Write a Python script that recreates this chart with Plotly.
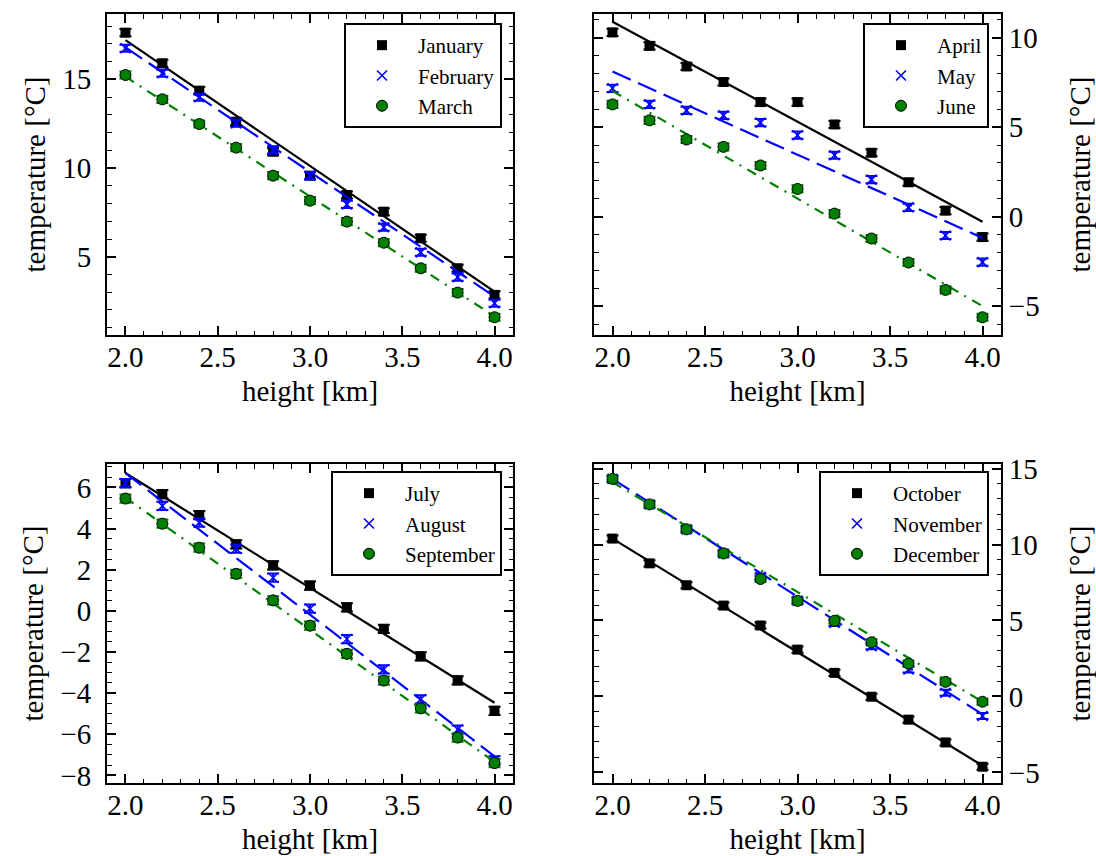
import plotly.graph_objects as go

# ---------------- data ----------------
heights = [2.0, 2.2, 2.4, 2.6, 2.8, 3.0, 3.2, 3.4, 3.6, 3.8, 4.0]
fit_x = [2.0, 4.0]
errors = [0.2, 0.2, 0.2, 0.2, 0.2, 0.2, 0.2, 0.2, 0.2, 0.2, 0.2]

january = [17.63, 15.90, 14.36, 12.61, 10.92, 9.57, 8.48, 7.54, 6.04, 4.35, 2.85]
february = [16.75, 15.34, 13.99, 12.52, 11.02, 9.57, 7.95, 6.66, 5.25, 3.85, 2.38]
march = [15.24, 13.87, 12.48, 11.15, 9.57, 8.16, 6.98, 5.79, 4.35, 2.98, 1.59]

april = [10.29, 9.54, 8.39, 7.52, 6.40, 6.40, 5.15, 3.57, 1.92, 0.34, -1.14]
may = [7.17, 6.27, 5.94, 5.66, 5.25, 4.55, 3.43, 2.07, 0.52, -1.05, -2.54]
june = [6.27, 5.38, 4.31, 3.90, 2.86, 1.55, 0.17, -1.22, -2.56, -4.09, -5.62]

july = [6.21, 5.67, 4.65, 3.23, 2.21, 1.23, 0.17, -0.88, -2.21, -3.38, -4.86]
august = [6.21, 5.10, 4.29, 3.02, 1.61, 0.11, -1.37, -2.84, -4.30, -5.77, -7.27]
september = [5.46, 4.24, 3.07, 1.80, 0.51, -0.72, -2.09, -3.39, -4.74, -6.16, -7.40]

october = [10.39, 8.76, 7.32, 5.98, 4.67, 3.08, 1.55, -0.02, -1.53, -3.03, -4.63]
november = [14.32, 12.64, 11.00, 9.41, 7.88, 6.31, 4.83, 3.30, 1.77, 0.24, -1.29]
december = [14.32, 12.64, 11.00, 9.41, 7.73, 6.29, 4.98, 3.56, 2.16, 0.96, -0.35]

# fitted lines (value at 2.0 km and 4.0 km)
jan_fit = [17.21, 3.03]
feb_fit = [16.80, 2.75]
mar_fit = [15.15, 1.64]
apr_fit = [10.89, -0.28]
may_fit = [8.11, -1.19]
jun_fit = [7.02, -5.00]
jul_fit = [6.70, -4.47]
aug_fit = [6.70, -7.07]
sep_fit = [5.51, -7.35]
oct_fit = [10.39, -4.56]
nov_fit = [14.32, -1.18]
dec_fit = [14.10, -0.35]

month_names = ["January", "February", "March", "April", "May", "June",
               "July", "August", "September", "October", "November", "December"]

# ---------------- styling ----------------
FONT = "Liberation Serif, Times New Roman, Times, serif"
BLACK = "#000000"
BLUE = "#0000ff"
GREEN = "#008000"

styles = [
    dict(color=BLACK, symbol="square", size=10, line=dict(width=0), dash="solid"),
    dict(color=BLUE, symbol="x-thin", size=10, line=dict(width=1.6, color=BLUE), dash="20px,8px"),
    dict(color=GREEN, symbol="circle", size=11, line=dict(width=1, color=BLACK), dash="10px,7px,2px,7px"),
]

panels = [
    [(january, jan_fit), (february, feb_fit), (march, mar_fit)],
    [(april, apr_fit), (may, may_fit), (june, jun_fit)],
    [(july, jul_fit), (august, aug_fit), (september, sep_fit)],
    [(october, oct_fit), (november, nov_fit), (december, dec_fit)],
]

fig = go.Figure()

for p, series in enumerate(panels):
    xa = "x" if p == 0 else f"x{p + 1}"
    ya = "y" if p == 0 else f"y{p + 1}"
    lg = "legend" if p == 0 else f"legend{p + 1}"
    for s, (vals, fit) in enumerate(series):
        st = styles[s]
        name = month_names[p * 3 + s]
        fig.add_trace(go.Scatter(
            x=fit_x, y=fit, mode="lines", xaxis=xa, yaxis=ya,
            line=dict(color=st["color"], width=2.2, dash=st["dash"]),
            showlegend=False, hoverinfo="skip"))
        fig.add_trace(go.Scatter(
            x=heights, y=vals, mode="markers", name=name, xaxis=xa, yaxis=ya,
            legend=lg,
            marker=dict(color=st["color"], symbol=st["symbol"], size=st["size"],
                        line=st["line"]),
            error_y=dict(type="data", array=errors, visible=True,
                         color=st["color"], thickness=2, width=6)))

W, H = 1096, 856
col_x = [(107 / W, 513 / W), (594 / W, 1001 / W)]
row_y = [((856 - 335) / H, (856 - 14) / H), ((856 - 783) / H, (856 - 464) / H)]

yranges = [[0.59, 18.68], [-6.61, 11.32], [-8.37, 7.14], [-5.7, 15.3]]
ydticks = [5, 5, 2, 5]
yminor = [1, 1, 0.5, 1]

tickfont = dict(family=FONT, size=29, color=BLACK)
titlefont = dict(family=FONT, size=29, color=BLACK)

layout = dict(
    width=W, height=H, margin=dict(l=0, r=0, t=0, b=0),
    paper_bgcolor="white", plot_bgcolor="white",
    font=dict(family=FONT, color=BLACK),
)

for p in range(4):
    row, col = divmod(p, 2)
    xk = "xaxis" if p == 0 else f"xaxis{p + 1}"
    yk = "yaxis" if p == 0 else f"yaxis{p + 1}"
    ya = "y" if p == 0 else f"y{p + 1}"
    xa = "x" if p == 0 else f"x{p + 1}"
    layout[xk] = dict(
        domain=list(col_x[col]), anchor=ya, range=[1.9, 4.1],
        tick0=2.0, dtick=0.5, tickformat=".1f", automargin=False,
        ticks="inside", ticklen=9, tickwidth=1.5, tickcolor=BLACK,
        minor=dict(ticks="inside", dtick=0.1, ticklen=4.5, tickwidth=1.2, tickcolor=BLACK),
        showline=True, linewidth=2, linecolor=BLACK, mirror="allticks",
        showgrid=False, zeroline=False, tickfont=tickfont,
        ticklabelstandoff=-5,
        title=dict(text="height [km]", font=titlefont, standoff=9),
    )
    layout[yk] = dict(
        domain=list(row_y[row]), anchor=xa, range=yranges[p],
        tick0=0, dtick=ydticks[p], side="left" if col == 0 else "right",
        automargin=False,
        ticks="inside", ticklen=9, tickwidth=1.5, tickcolor=BLACK,
        minor=dict(ticks="inside", dtick=yminor[p], ticklen=4.5, tickwidth=1.2, tickcolor=BLACK),
        showline=True, linewidth=2, linecolor=BLACK, mirror="allticks",
        showgrid=False, zeroline=False, tickfont=tickfont,
        ticklabelstandoff=8 if col == 0 else 0,
        title=dict(text="temperature [°C]", font=titlefont,
                   standoff=8 if col == 0 else 31),
    )

leg_pos = [(502 / W, (856 - 23) / H), (989 / W, (856 - 23) / H),
           (502 / W, (856 - 471) / H), (989 / W, (856 - 471) / H)]
for p in range(4):
    lk = "legend" if p == 0 else f"legend{p + 1}"
    layout[lk] = dict(
        x=leg_pos[p][0], y=leg_pos[p][1], xanchor="right", yanchor="top",
        xref="paper", yref="paper",
        bgcolor="white", bordercolor=BLACK, borderwidth=2,
        font=dict(family=FONT, size=21, color=BLACK),
        itemwidth=62, tracegroupgap=0,
    )

fig.update_layout(**layout)
fig.write_html(
    "out.html",
    config={"displayModeBar": False},
    post_script="document.body.style.margin='0';document.body.style.overflow='hidden';",
)
